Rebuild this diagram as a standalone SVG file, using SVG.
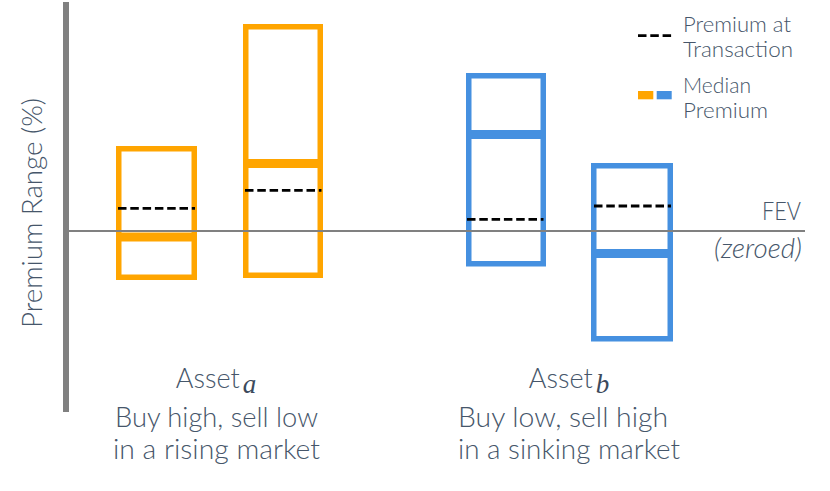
<svg xmlns="http://www.w3.org/2000/svg" width="830" height="491" viewBox="0 0 830 491">
<style>
.t{font-family:Lato,"Open Sans","Liberation Sans",sans-serif;font-weight:300;fill:#46566a}
.m{font-family:"Liberation Serif","DejaVu Serif",serif;font-style:italic;font-weight:400}
.box{fill:none;stroke-width:5.5}
.or{stroke:#FFA500}
.bl{stroke:#4590E0}
.dash{stroke:#000;stroke-width:2.8;stroke-dasharray:8.5 3.8;fill:none}
.axis{stroke:#808080;fill:none}
</style>
<rect width="830" height="491" fill="#fff"/>
<g id="box-a1">
<rect class="box or" x="118.75" y="148.75" width="75.5" height="128.5"/>
<rect x="116" y="232.5" width="81" height="9" fill="#FFA500"/>
<line class="dash" x1="118" y1="208.3" x2="195" y2="208.3"/>
</g>
<g id="box-a2">
<rect class="box or" x="245.75" y="26.75" width="74.5" height="248.5"/>
<rect x="243" y="159" width="80" height="9" fill="#FFA500"/>
<line class="dash" x1="245" y1="190.3" x2="321.5" y2="190.3"/>
</g>
<g id="box-b1">
<rect class="box bl" x="468.75" y="75.75" width="74.5" height="188"/>
<rect x="466" y="130" width="80" height="9" fill="#4590E0"/>
<line class="dash" x1="467" y1="219.3" x2="543.5" y2="219.3"/>
</g>
<g id="box-b2">
<rect class="box bl" x="593.75" y="165.75" width="76.5" height="173"/>
<rect x="591" y="249" width="82" height="9" fill="#4590E0"/>
<line class="dash" x1="594" y1="206" x2="671" y2="206"/>
</g>
<g id="connectors">
<rect x="63" y="2" width="6" height="410" fill="#808080"/>
<line class="axis" x1="69" y1="231" x2="805" y2="231" stroke-width="2.2"/>
</g>
<g id="y-label">
<text class="t" font-size="27.5" text-anchor="middle" transform="translate(42,213) rotate(-90)" textLength="230" lengthAdjust="spacingAndGlyphs">Premium Range (%)</text>
</g>
<g id="fev-label">
<text class="t" font-size="25" x="801" y="220" text-anchor="end" textLength="39" lengthAdjust="spacingAndGlyphs">FEV</text>
<text class="t" font-size="27" x="802" y="258" text-anchor="end" font-style="italic" textLength="88" lengthAdjust="spacingAndGlyphs">(zeroed)</text>
</g>
<g id="legend">
<line class="dash" x1="638" y1="35.7" x2="672" y2="35.7" stroke-width="3.2"/>
<text class="t" font-size="22" x="683" y="31.7" textLength="108" lengthAdjust="spacingAndGlyphs">Premium at</text>
<text class="t" font-size="22" x="683" y="56.7" textLength="110" lengthAdjust="spacingAndGlyphs">Transaction</text>
<rect x="638" y="91" width="15.3" height="8.3" fill="#FFA500"/>
<rect x="656.7" y="91" width="15" height="8.3" fill="#4590E0"/>
<text class="t" font-size="22" x="683" y="93.3" textLength="68" lengthAdjust="spacingAndGlyphs">Median</text>
<text class="t" font-size="22" x="683" y="118.3" textLength="85" lengthAdjust="spacingAndGlyphs">Premium</text>
</g>
<g id="label-a">
<text class="t" font-size="27" x="216" y="388" text-anchor="middle">Asset<tspan class="m" font-size="27" dx="3" dy="5" fill="#3c4a5c">a</tspan></text>
<text class="t" font-size="27.5" x="216.5" y="427" text-anchor="middle" textLength="203" lengthAdjust="spacingAndGlyphs">Buy high, sell low</text>
<text class="t" font-size="27.5" x="216.5" y="459" text-anchor="middle" textLength="207" lengthAdjust="spacingAndGlyphs">in a rising market</text>
</g>
<g id="label-b">
<text class="t" font-size="27" x="569" y="388" text-anchor="middle">Asset<tspan class="m" font-size="27" dx="3" dy="5" fill="#3c4a5c">b</tspan></text>
<text class="t" font-size="27.5" x="563" y="427" text-anchor="middle" textLength="210" lengthAdjust="spacingAndGlyphs">Buy low, sell high</text>
<text class="t" font-size="27.5" x="569" y="459" text-anchor="middle" textLength="222" lengthAdjust="spacingAndGlyphs">in a sinking market</text>
</g>
</svg>
